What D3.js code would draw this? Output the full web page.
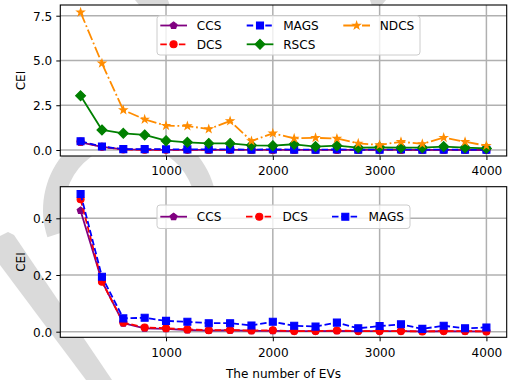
<!DOCTYPE html>
<html><head><meta charset="utf-8">
<script src="https://cdn.jsdelivr.net/npm/d3@7"></script>
<style>body{margin:0;background:#fff}svg{display:block}text{font-family:"DejaVu Sans",sans-serif;fill:#000}</style>
</head><body><svg id="c" width="511" height="380"></svg>
<script>
// ---- data ----
const evCounts = [200,400,600,800,1000,1200,1400,1600,1800,2000,2200,2400,2600,2800,3000,3200,3400,3600,3800,4000];
const ccs  = [0.427,0.178,0.030,0.012,0.010,0.006,0.004,0.005,0.003,0.003,0.002,0.002,0.003,0.002,0.002,0.002,0.001,0.002,0.001,0.001];
const dcs  = [0.467,0.176,0.032,0.015,0.012,0.008,0.005,0.006,0.004,0.005,0.002,0.002,0.004,0.002,0.002,0.002,0.001,0.002,0.002,0.001];
const mags = [0.486,0.194,0.047,0.049,0.038,0.035,0.030,0.030,0.022,0.035,0.021,0.018,0.032,0.012,0.020,0.026,0.010,0.021,0.012,0.015];
const rscs = [3.03,1.12,0.93,0.84,0.52,0.43,0.37,0.37,0.26,0.24,0.32,0.19,0.24,0.13,0.15,0.13,0.13,0.19,0.13,0.09];
const ndcs = [7.69,4.84,2.23,1.71,1.36,1.34,1.17,1.62,0.50,0.93,0.65,0.68,0.64,0.37,0.28,0.46,0.34,0.69,0.46,0.24];
const seriesNames = ["CCS","DCS","MAGS","RSCS","NDCS"];
const xTicks = [1000,2000,3000,4000];
const topYTicks = [0,2.5,5,7.5];
const bottomYTicks = [0,0.2,0.4];
const yLabel = "CEI";
const xLabel = "The number of EVs";

const styles = {
  CCS:  {color:"#800080", dash:null, marker:"pentagon", values:ccs},
  DCS:  {color:"#ff0000", dash:"6.5,2.8", marker:"circle", values:dcs},
  MAGS: {color:"#0000ff", dash:"6.5,2.8", marker:"square", values:mags},
  RSCS: {color:"#008000", dash:null, marker:"diamond", values:rscs},
  NDCS: {color:"#ff8c00", dash:"11.3,2.8,1.8,2.8", marker:"star", values:ndcs}
};

const FONT = 12.1;
const svg = d3.select("#c");

// ---- background watermark ----
const wm = svg.append("g").attr("fill","#dadada");
wm.append("path")
  .attr("transform","translate(130,210)")
  .attr("d", d3.arc()({innerRadius:66, outerRadius:87, startAngle:-1.89, endAngle:2.1}));
wm.append("path").attr("d","M0,236 L8,232 L14,235 L112,380 L86,380 L0,265 Z");
wm.append("path").attr("d","M135,0 L168,0 L170,6 L140,6 Z");
wm.append("path").attr("d","M370,0 L386,0 L381,6 L372,6 Z");

// ---- marker shapes ----
function markerPath(type){
  if(type==="circle") return d3.symbol(d3.symbolCircle, Math.PI*3.5*3.5)();
  if(type==="square") return "M-3.5,-3.5H3.5V3.5H-3.5Z";
  if(type==="diamond") return "M0,-4.95L4.95,0L0,4.95L-4.95,0Z";
  if(type==="pentagon"){
    const r=3.6; let p=[];
    for(let i=0;i<5;i++){const a=-Math.PI/2+i*2*Math.PI/5; p.push([r*Math.cos(a),r*Math.sin(a)]);}
    return "M"+p.map(d=>d.join(",")).join("L")+"Z";
  }
  if(type==="star"){
    const R=3.8, r=R*0.381966; let p=[];
    for(let i=0;i<10;i++){const a=-Math.PI/2+i*Math.PI/5; const rr=i%2?r:R; p.push([rr*Math.cos(a),rr*Math.sin(a)]);}
    return "M"+p.map(d=>d.join(",")).join("L")+"Z";
  }
}

const x = d3.scaleLinear().domain([10,4190]).range([60.3,506.7]);

function panel(opts){
  const {top,bottom,domain,yTicks,names,fmt,legend} = opts;
  const y = d3.scaleLinear().domain(domain).range([bottom,top]);
  const g = svg.append("g");
  g.append("rect").attr("x",60.3).attr("y",top).attr("width",506.7-60.3).attr("height",bottom-top).attr("fill","#fff");
  // grid
  g.append("g").selectAll("line.gx").data(xTicks).join("line")
    .attr("x1",d=>x(d)).attr("x2",d=>x(d)).attr("y1",top).attr("y2",bottom)
    .attr("stroke","#b0b0b0").attr("stroke-width",1.5);
  g.append("g").selectAll("line.gy").data(yTicks).join("line")
    .attr("x1",60.3).attr("x2",506.7).attr("y1",d=>y(d)).attr("y2",d=>y(d))
    .attr("stroke","#b0b0b0").attr("stroke-width",1.5);
  // series
  names.forEach(n=>{
    const s = styles[n];
    const pts = evCounts.map((e,i)=>[e,s.values[i]]);
    g.append("path").datum(pts)
      .attr("d", d3.line().x(d=>x(d[0])).y(d=>y(d[1])))
      .attr("fill","none").attr("stroke",s.color).attr("stroke-width",1.8)
      .attr("stroke-dasharray",s.dash).attr("stroke-linejoin","round");
    g.append("g").selectAll("path").data(pts).join("path")
      .attr("transform",d=>`translate(${x(d[0])},${y(d[1])})`)
      .attr("d",markerPath(s.marker))
      .attr("fill",s.color).attr("stroke",s.color).attr("stroke-width",1.1);
  });
  // axes
  const xa = g.append("g").attr("transform",`translate(0,${bottom})`)
    .call(d3.axisBottom(x).tickValues(xTicks).tickSize(4).tickPadding(4).tickFormat(d3.format("d")));
  const ya = g.append("g").attr("transform",`translate(60.3,0)`)
    .call(d3.axisLeft(y).tickValues(yTicks).tickSize(4).tickPadding(4).tickFormat(fmt));
  [xa,ya].forEach(a=>{
    a.select(".domain").remove();
    a.selectAll("text").style("font-family","DejaVu Sans").style("font-size",FONT+"px").attr("fill","#000");
    a.selectAll("line").attr("stroke","#000").attr("stroke-width",1);
  });
  xa.selectAll("text").attr("dy",null).attr("y",19.3);
  ya.selectAll("text").attr("dy","0.36em");
  // frame
  g.append("rect").attr("x",60.3).attr("y",top).attr("width",506.7-60.3).attr("height",bottom-top)
    .attr("fill","none").attr("stroke","#000").attr("stroke-width",1.1);
  // y label
  g.append("text").attr("transform",`translate(25,${(top+bottom)/2}) rotate(-90)`)
    .attr("text-anchor","middle").style("font-size",FONT+"px").text(yLabel);
  // legend
  const lg = g.append("g");
  lg.append("rect").attr("x",legend.x0).attr("y",legend.y0).attr("width",legend.x1-legend.x0).attr("height",legend.y1-legend.y0)
    .attr("rx",3).attr("fill","#fff").attr("fill-opacity",0.8).attr("stroke","#cccccc").attr("stroke-width",1);
  legend.items.forEach(it=>{
    const s = styles[it.name];
    lg.append("line").attr("x1",it.hx).attr("x2",it.hx+26.7).attr("y1",it.cy).attr("y2",it.cy)
      .attr("stroke",s.color).attr("stroke-width",1.8).attr("stroke-dasharray",s.dash);
    lg.append("path").attr("transform",`translate(${it.hx+13.3},${it.cy})`).attr("d",markerPath(s.marker))
      .attr("fill",s.color).attr("stroke",s.color).attr("stroke-width",1.1);
    lg.append("text").attr("x",it.hx+36.5).attr("y",it.cy+4.6).style("font-size",FONT+"px").text(it.name);
  });
}

panel({top:5,bottom:156,domain:[-0.335,8.098],yTicks:topYTicks,names:seriesNames,fmt:d3.format(".1f"),
  legend:{x0:157,y0:15.7,x1:420,y1:55,items:[
    {name:"CCS",hx:160.3,cy:25.5},{name:"DCS",hx:160.3,cy:44.3},
    {name:"MAGS",hx:246.7,cy:25.5},{name:"RSCS",hx:246.7,cy:44.3},
    {name:"NDCS",hx:343.3,cy:25.5}]}});
panel({top:186.7,bottom:337.3,domain:[-0.0198,0.5115],yTicks:bottomYTicks,names:["CCS","DCS","MAGS"],fmt:d3.format(".1f"),
  legend:{x0:157,y0:205,x1:410,y1:228.5,items:[
    {name:"CCS",hx:160.3,cy:216.7},{name:"DCS",hx:246,cy:216.7},{name:"MAGS",hx:332,cy:216.7}]}});

svg.append("text").attr("x",283.5).attr("y",377.5).attr("text-anchor","middle").style("font-size",FONT+"px").text(xLabel);
</script></body></html>
